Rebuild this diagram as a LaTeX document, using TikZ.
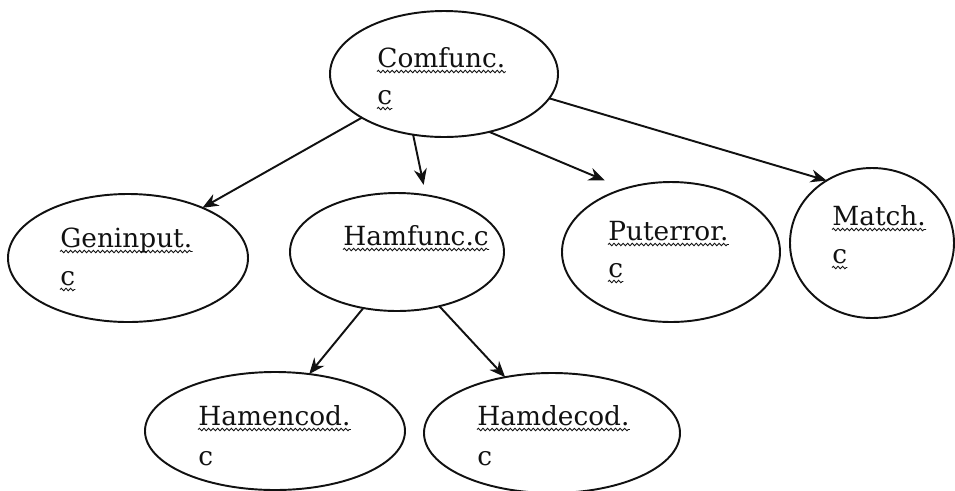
\documentclass[tikz,border=0pt]{standalone}
\usepackage{fontspec}
\setmainfont{DejaVu Serif}
\usepackage{xcolor}
\usepackage{tikz}
\usetikzlibrary{arrows.meta,shapes.geometric,decorations.pathmorphing}
\definecolor{ink}{HTML}{111111}

\begin{document}
\begin{tikzpicture}[
  bubble/.style={draw=ink,ellipse,line width=1.1pt,inner sep=0pt,outer sep=0pt},
  lbl/.style={anchor=base west,inner sep=0pt,font=\fontsize{15}{18}\selectfont,text=ink},
  arr/.style={-{Stealth[length=3.2mm,width=2.6mm]},line width=1.1pt,color=ink},
  wavy/.style={draw=ink,line width=0.5pt,decorate,decoration={snake,amplitude=0.7pt,segment length=2.6pt}}
]
  \useasboundingbox (0,0) rectangle (19.1,-9.8);
  % files
  \node[bubble,minimum width=4.56cm,minimum height=2.52cm] (comfunc) at (8.88,-1.48) {};
  \node[bubble,minimum width=4.8cm,minimum height=2.56cm] (geninput) at (2.56,-5.16) {};
  \node[bubble,minimum width=4.28cm,minimum height=2.36cm] (hamfunc) at (7.94,-5.04) {};
  \node[bubble,minimum width=4.36cm,minimum height=2.8cm] (puterror) at (13.42,-5.04) {};
  \node[bubble,minimum width=3.28cm,minimum height=3.0cm] (match) at (17.44,-4.86) {};
  \node[bubble,minimum width=5.2cm,minimum height=2.36cm] (hamencod) at (5.5,-8.62) {};
  \node[bubble,minimum width=5.12cm,minimum height=2.4cm] (hamdecod) at (11.04,-8.66) {};
  % names
  \node[lbl] (comfunc-t) at (7.54,-1.34) {Comfunc.};
  \node[lbl] (comfunc-c) at (7.54,-2.08) {c};
  \node[lbl] (geninput-t) at (1.2,-4.94) {Geninput.};
  \node[lbl] (geninput-c) at (1.2,-5.70) {c};
  \node[lbl] (hamfunc-t) at (6.86,-4.90) {Hamfunc.c};
  \node[lbl] (puterror-t) at (12.16,-4.80) {Puterror.};
  \node[lbl] (puterror-c) at (12.16,-5.54) {c};
  \node[lbl] (match-t) at (16.64,-4.50) {Match.};
  \node[lbl] (match-c) at (16.64,-5.26) {c};
  \node[lbl] (hamencod-t) at (3.96,-8.50) {Hamencod.};
  \node[lbl] (hamencod-c) at (3.96,-9.30) {c};
  \node[lbl] (hamdecod-t) at (9.54,-8.50) {Hamdecod.};
  \node[lbl] (hamdecod-c) at (9.54,-9.30) {c};
  % spell-check marks
  \foreach \n in {comfunc-t,comfunc-c,geninput-t,geninput-c,hamfunc-t,puterror-t,puterror-c,match-t,match-c,hamencod-t,hamdecod-t}
    \draw[wavy] ([yshift=-0.09cm]\n.base west) -- ([yshift=-0.09cm]\n.base east);
  \draw[arr] (comfunc.-152)--(geninput.34); \draw[arr] (comfunc.-117)--([yshift=0.2cm]hamfunc.65);
  \draw[arr] (comfunc.-52)--([yshift=0.32cm]puterror.140); \draw[arr] (comfunc.-13)--(match.126);
  \draw[arr] (hamfunc.-121)--(hamencod.59); \draw[arr] (hamfunc.-52)--(hamdecod.130);
\end{tikzpicture}
\end{document}
